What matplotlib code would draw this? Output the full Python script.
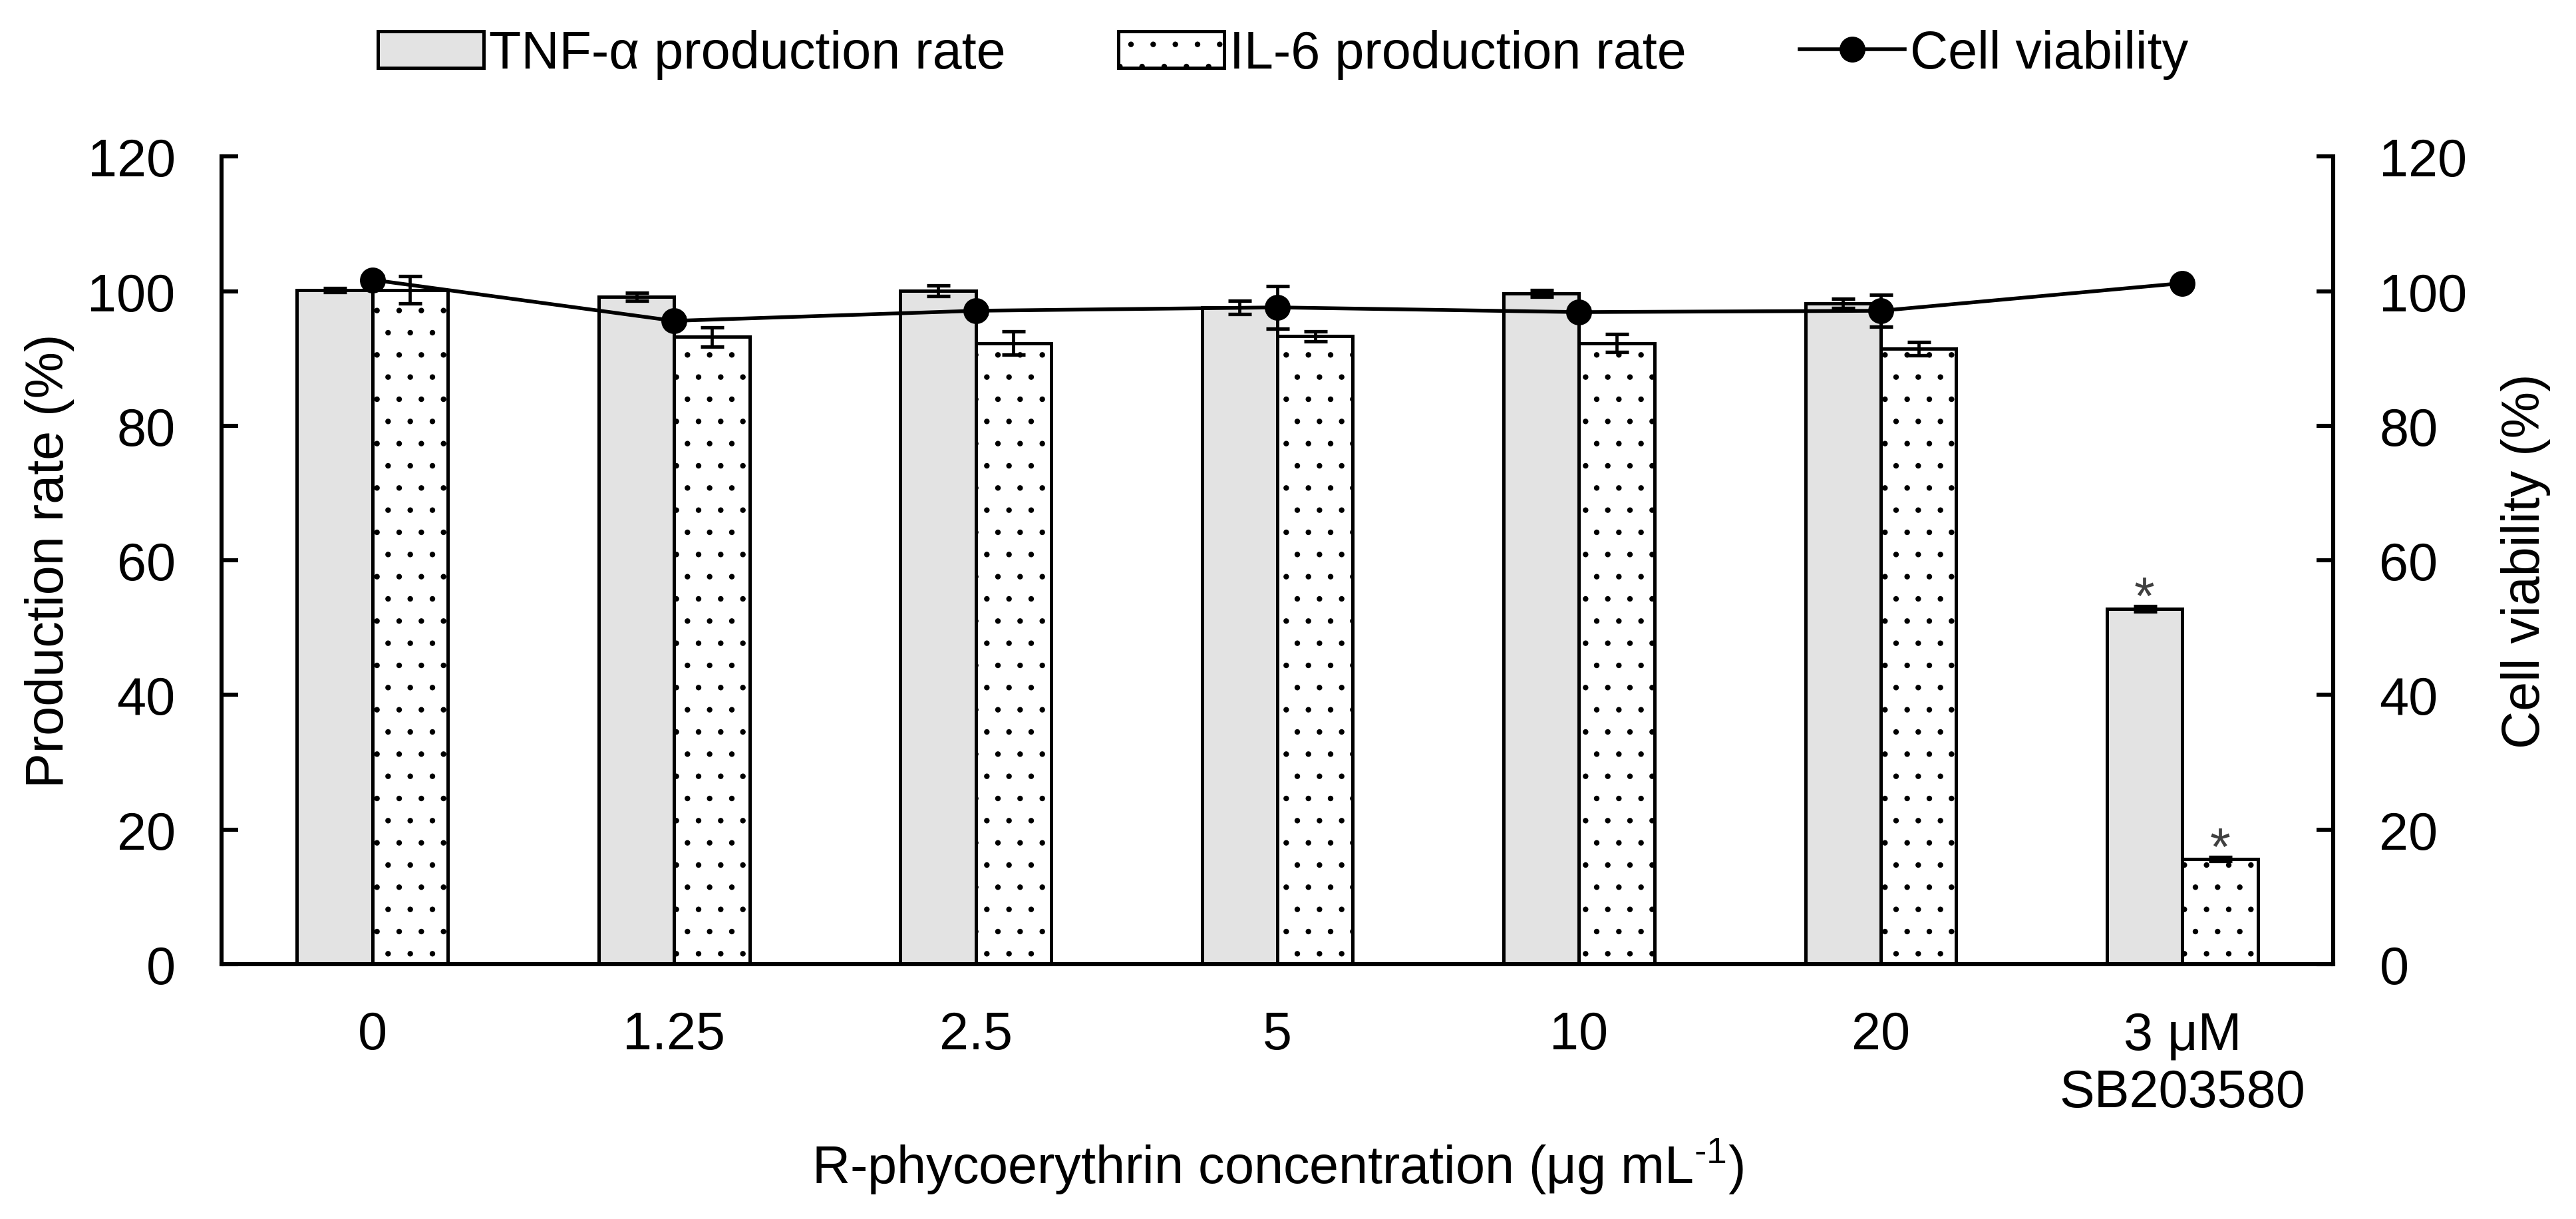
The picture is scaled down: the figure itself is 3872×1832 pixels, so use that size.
import matplotlib.pyplot as plt
import numpy as np

plt.rcParams['font.family'] = ['Liberation Sans', 'DejaVu Sans']
plt.rcParams['mathtext.fontset'] = 'custom'
plt.rcParams['mathtext.rm'] = 'Liberation Sans'
plt.rcParams['hatch.linewidth'] = 0.6

categories = ['0', '1.25', '2.5', '5', '10', '20', '3 μM\nSB203580']
tnf_rate = [100.2, 99.2, 100.1, 97.6, 99.7, 98.2, 52.8]
tnf_err = [0.3, 0.6, 0.8, 1.0, 0.5, 0.7, 0.4]
il6_rate = [100.2, 93.2, 92.3, 93.3, 92.3, 91.5, 15.6]
il6_err = [2.0, 1.4, 1.7, 0.7, 1.3, 1.0, 0.3]
viability = [101.7, 95.6, 97.1, 97.6, 96.9, 97.1, 101.2]
viability_err = [0.5, 0.5, 0.5, 3.2, 0.5, 2.4, 0.5]
significant = [False, False, False, False, False, False, True]

fs = 28.5
bar_w = 0.25
x = np.arange(len(categories))

fig = plt.figure(figsize=(19.365, 9.165), dpi=200)
ax = fig.add_axes([0.086, 0.209, 0.8195, 0.662])
ax2 = ax.twinx()

tnf_bars = ax.bar(x - bar_w / 2, tnf_rate, bar_w, color='#e3e3e3', edgecolor='black',
                  linewidth=1.8, zorder=2, label='TNF-α production rate')
il6_bars = ax.bar(x + bar_w / 2, il6_rate, bar_w, color='white', edgecolor='black',
                  hatch='.', linewidth=1.8, zorder=2, label='IL-6 production rate')
err_kw = dict(fmt='none', ecolor='black', elinewidth=1.7, capsize=6.3, capthick=1.9, zorder=3)
ax.errorbar(x - bar_w / 2, tnf_rate, yerr=tnf_err, **err_kw)
ax.errorbar(x + bar_w / 2, il6_rate, yerr=il6_err, **err_kw)

# significance marks above the inhibitor bars
for i, sig in enumerate(significant):
    if not sig:
        continue
    for xpos, val, err in [(x[i] - bar_w / 2, tnf_rate[i], tnf_err[i]),
                           (x[i] + bar_w / 2, il6_rate[i], il6_err[i])]:
        ax.annotate('*', (xpos, val + err), xytext=(0, -4), textcoords='offset points',
                    ha='center', va='baseline', fontsize=fs, color='#404040')

ax2.errorbar(x, viability, yerr=viability_err, fmt='none', ecolor='black',
             elinewidth=1.7, capsize=6.3, capthick=1.9, zorder=2)
via_line, = ax2.plot(x, viability, color='black', linewidth=2.0, marker='o',
                     markersize=13, zorder=3, label='Cell viability')

for a in (ax, ax2):
    a.set_ylim(0, 120)
    a.set_yticks(np.arange(0, 121, 20))
    a.spines['top'].set_visible(False)
    for s in a.spines.values():
        s.set_linewidth(2.2)
ax.set_xlim(-0.5, len(categories) - 0.5)
ax2.spines['left'].set_visible(False)
ax2.spines['bottom'].set_visible(False)
ax.spines['right'].set_visible(False)

ax.set_xticks(x)
ax.set_xticklabels(categories)
ax.tick_params(axis='x', length=0, pad=25, labelsize=fs)
ax.tick_params(axis='y', direction='in', length=9, width=2.2, pad=25, labelsize=fs)
ax2.tick_params(axis='y', direction='in', length=9, width=2.2, pad=25, labelsize=fs)

ax.set_ylabel('Production rate (%)', fontsize=fs, labelpad=7)
ax2.set_ylabel('Cell viability (%)', fontsize=fs, labelpad=18)
ax.set_xlabel(r'R-phycoerythrin concentration (μg mL$^{\text{-}1}$)', fontsize=fs, labelpad=10)

fig.legend([tnf_bars, il6_bars, via_line],
           ['TNF-α production rate', 'IL-6 production rate', 'Cell viability'],
           loc='center', bbox_to_anchor=(0.498, 0.955), ncol=3, frameon=False,
           fontsize=fs, handlelength=2.0, handletextpad=0.1, columnspacing=2.15)

fig.savefig('out.png', dpi=200)
